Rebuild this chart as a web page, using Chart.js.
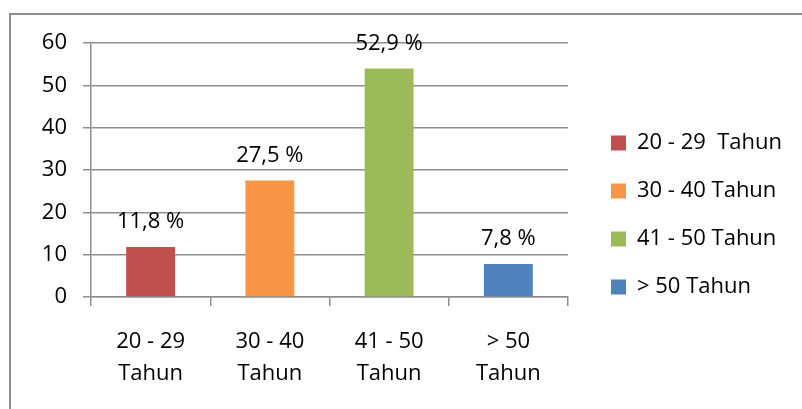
<!DOCTYPE html>
<html>
<head>
<meta charset="utf-8">
<script src="https://cdn.jsdelivr.net/npm/chart.js@4"></script>
<style>
  html, body { margin: 0; padding: 0; background: #fff; }
  #wrap { position: relative; width: 802px; height: 409px; overflow: hidden; }
  #frame { position: absolute; left: 9px; top: 13px; width: 820px; height: 440px; border: 2px solid #8c8c8c; box-sizing: border-box; }
  canvas { position: absolute; left: 0; top: 0; }
</style>
</head>
<body>
<div id="wrap">
  <div id="frame"></div>
  <canvas id="c" width="802" height="409"></canvas>
</div>
<script>
const categories = [["20 - 29", "Tahun"], ["30 - 40", "Tahun"], ["41 - 50", "Tahun"], ["> 50", "Tahun"]];
const legendLabels = ["20 - 29  Tahun", "30 - 40 Tahun", "41 - 50 Tahun", "> 50 Tahun"];
const values = [11.8, 27.5, 54, 7.8];
const valueLabels = ["11,8 %", "27,5 %", "52,9 %", "7,8 %"];
const colors = ["#C0504D", "#F79646", "#9BBB59", "#4F81BD"];
const yTicks = [0, 10, 20, 30, 40, 50, 60];

const FONT = "'Open Sans', sans-serif";
const GRID = "#8e8e8e";

const valueLabelPlugin = {
  id: 'valueLabels',
  afterDatasetsDraw(chart) {
    const ctx = chart.ctx;
    const meta = chart.getDatasetMeta(0);
    ctx.save();
    ctx.font = "22px " + FONT;
    ctx.fillStyle = "#000";
    ctx.textAlign = "center";
    ctx.textBaseline = "middle";
    meta.data.forEach((bar, i) => {
      ctx.fillText(valueLabels[i], bar.x, bar.y - 25);
    });
    ctx.restore();
  }
};

const legendShift = {
  id: 'legendShift',
  afterLayout(chart) {
    const lg = chart.legend;
    lg.left += 17;
    lg.right = chart.width;
    lg.width = lg.right - lg.left;
  }
};

new Chart(document.getElementById('c'), {
  type: 'bar',
  data: {
    labels: categories,
    datasets: [{
      data: values,
      backgroundColor: colors,
      borderWidth: 0,
      barPercentage: 0.41,
      categoryPercentage: 1.0
    }]
  },
  plugins: [valueLabelPlugin, legendShift],
  options: {
    responsive: false,
    animation: false,
    devicePixelRatio: 1,
    layout: { padding: { left: 0, top: 43, bottom: 22, right: 42 } },
    plugins: {
      tooltip: { enabled: false },
      legend: {
        position: 'right',
        align: 'center',
        maxWidth: 192,
        labels: {
          boxWidth: 15,
          boxHeight: 15,
          padding: 26,
          color: '#000',
          font: { family: FONT, size: 22 },
          generateLabels() {
            return legendLabels.map((t, i) => ({
              text: t, fillStyle: colors[i], strokeStyle: colors[i], lineWidth: 0, hidden: false, index: i
            }));
          }
        }
      }
    },
    scales: {
      x: {
        grid: { offset: true, drawOnChartArea: false, drawTicks: true, tickLength: 9, color: GRID, lineWidth: 1.5 },
        border: { display: true, color: GRID, width: 1.5 },
        ticks: { color: '#000', font: { family: FONT, size: 22, lineHeight: 1.486 }, padding: 19, maxRotation: 0 },
        afterFit(s) { s.height = 90; }
      },
      y: {
        min: 0, max: 60,
        afterBuildTicks(s) { s.ticks = yTicks.map(v => ({ value: v })); },
        grid: { drawOnChartArea: true, drawTicks: true, tickLength: 8, color: GRID, lineWidth: 1.5 },
        border: { display: true, color: GRID, width: 1.5 },
        ticks: { color: '#000', font: { family: FONT, size: 22 }, padding: 16 },
        afterFit(s) { s.width = 91; }
      }
    }
  }
});
</script>
</body>
</html>
